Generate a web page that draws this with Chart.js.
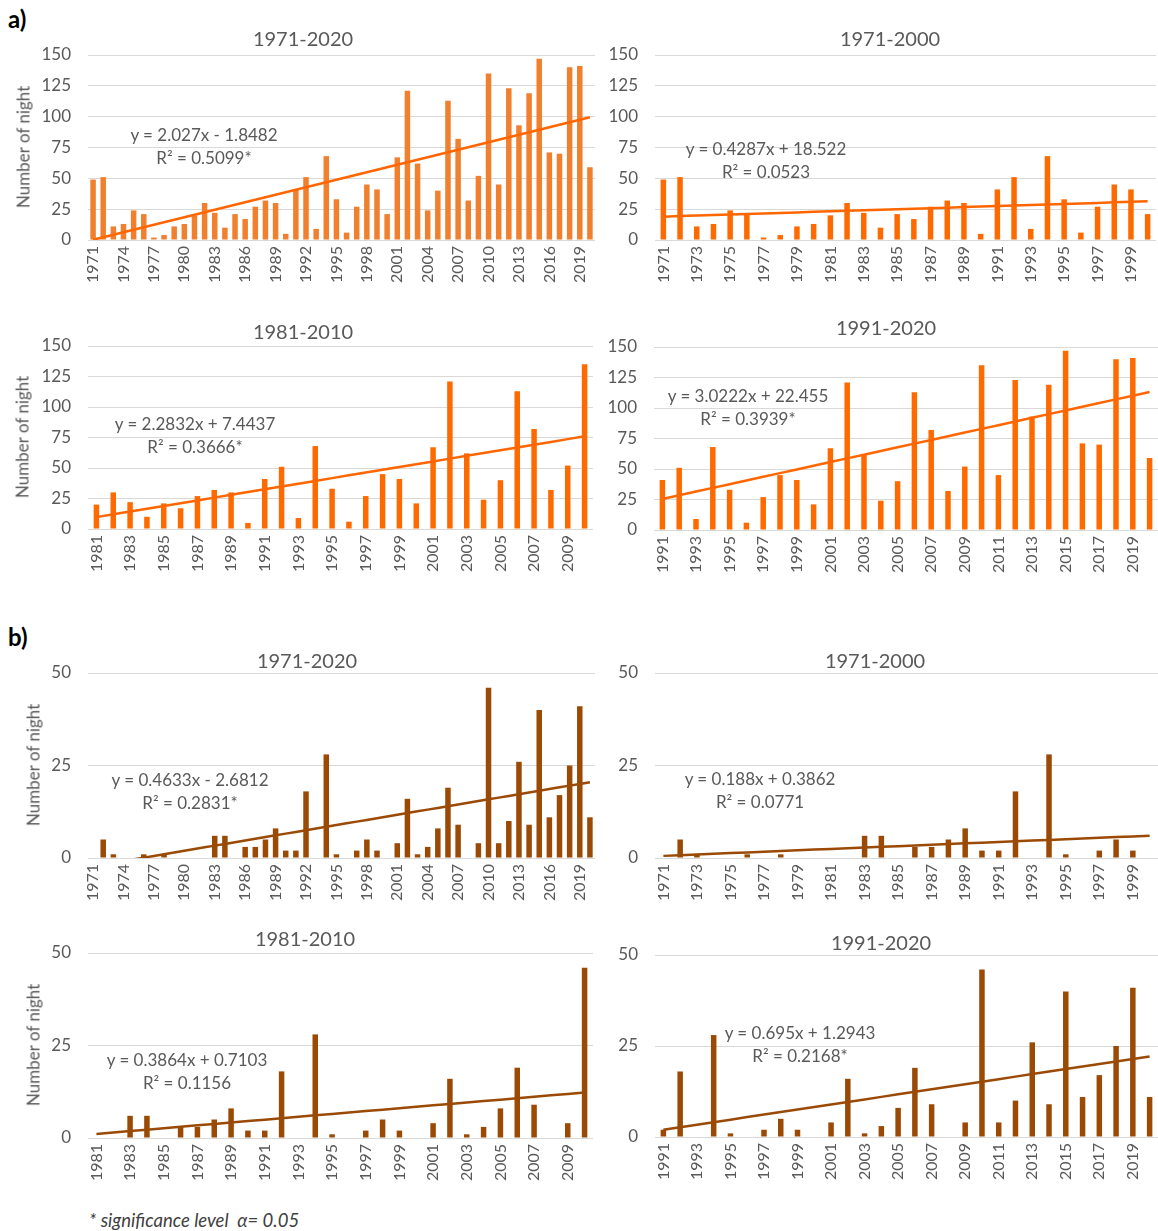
<!DOCTYPE html>
<html>
<head>
<meta charset="utf-8">
<script src="https://cdn.jsdelivr.net/npm/chart.js@4/dist/chart.umd.min.js"></script>
<style>
  html, body { margin: 0; padding: 0; background: #fff; }
  body { width: 1158px; height: 1231px; position: relative; overflow: hidden;
         font-family: Lato, "Open Sans", sans-serif; color: #595959; }
  canvas { position: absolute; }
  .title { position: absolute; transform: translate(-50%, -50%); white-space: nowrap; font-size: 20px; }
  .eq { position: absolute; transform: translate(-50%, -50%); white-space: nowrap; font-size: 17px;
        text-align: center; line-height: 23px; }
  .ytitle { position: absolute; transform: translate(-50%, -50%) rotate(-90deg); white-space: nowrap; font-size: 17px; }
  .panel { position: absolute; transform: translateY(-50%); font-weight: bold; font-size: 24px; color: #000; }
  .note { position: absolute; transform: translateY(-50%); font-style: italic; font-size: 18.5px; color: #404040; white-space: pre; }
</style>
</head>
<body>
<div class="panel" style="left:8px;top:18px;">a)</div>
<div class="panel" style="left:8px;top:636px;">b)</div>
<div class="note" style="left:89px;top:1220px;">* significance level  α= 0.05</div>
<script>
// Years on the category axis
const YEARS = ['1971','1972','1973','1974','1975','1976','1977','1978','1979','1980',
               '1981','1982','1983','1984','1985','1986','1987','1988','1989','1990',
               '1991','1992','1993','1994','1995','1996','1997','1998','1999','2000',
               '2001','2002','2003','2004','2005','2006','2007','2008','2009','2010',
               '2011','2012','2013','2014','2015','2016','2017','2018','2019','2020'];

// a) yearly number of nights
const NIGHTS_A = [49, 51, 11, 13, 24, 21, 2, 4, 11, 13,
                  20, 30, 22, 10, 21, 17, 27, 32, 30, 5,
                  41, 51, 9, 68, 33, 6, 27, 45, 41, 21,
                  67, 121, 62, 24, 40, 113, 82, 32, 52, 135,
                  45, 123, 93, 119, 147, 71, 70, 140, 141, 59];

// b) yearly number of nights
const NIGHTS_B = [0, 5, 1, 0, 0, 1, 0, 1, 0, 0,
                  0, 0, 6, 6, 0, 3, 3, 5, 8, 2,
                  2, 18, 0, 28, 1, 0, 2, 5, 2, 0,
                  4, 16, 1, 3, 8, 19, 9, 0, 4, 46,
                  4, 10, 26, 9, 40, 11, 17, 25, 41, 11];

// Periods shown in each group of four panels
const PERIOD_NAMES = ['1971-2020', '1971-2000', '1981-2010', '1991-2020'];
const PERIOD_START = ['1971', '1971', '1981', '1991'];
const PERIOD_END   = ['2020', '2000', '2010', '2020'];

// Linear trend coefficients (x = 1 for the first year of the period) and R²
const SLOPE_A     = [2.027, 0.4287, 2.2832, 3.0222];
const INTERCEPT_A = [-1.8482, 18.522, 7.4437, 22.455];
const R2_A        = ['0.5099*', '0.0523', '0.3666*', '0.3939*'];
const SLOPE_B     = [0.4633, 0.188, 0.3864, 0.695];
const INTERCEPT_B = [-2.6812, 0.3862, 0.7103, 1.2943];
const R2_B        = ['0.2831*', '0.0771', '0.1156', '0.2168*'];

// Value axis ranges
const Y_MAX_A = 150, Y_STEP_A = 25;
const Y_MAX_B = 50,  Y_STEP_B = 25;

const AXIS_TITLE = 'Number of night';

// Panel geometry (page pixels)
const BOXES = [
  // group a
  { g: 'a', p: 0, left: 0,   width: 600, plotLeft: 88,  plotRight: 595,  plotTop: 55,  plotBottom: 240,  labelBottom: 300,  title: [303, 38],  eq: [204, 146],   yTitle: [23, 147] },
  { g: 'a', p: 1, left: 600, width: 558, plotLeft: 655, plotRight: 1156, plotTop: 55,  plotBottom: 240,  labelBottom: 300,  title: [890, 38],  eq: [766, 160],   yTitle: null },
  { g: 'a', p: 2, left: 0,   width: 600, plotLeft: 88,  plotRight: 593,  plotTop: 346, plotBottom: 529,  labelBottom: 590,  title: [303, 331], eq: [195, 434.5], yTitle: [22, 437] },
  { g: 'a', p: 3, left: 600, width: 558, plotLeft: 654, plotRight: 1158, plotTop: 347, plotBottom: 530,  labelBottom: 590,  title: [886, 327], eq: [748, 406.5], yTitle: null },
  // group b
  { g: 'b', p: 0, left: 0,   width: 600, plotLeft: 88,  plotRight: 595,  plotTop: 673, plotBottom: 858,  labelBottom: 915,  title: [307, 660], eq: [190, 790.5], yTitle: [33, 765] },
  { g: 'b', p: 1, left: 600, width: 558, plotLeft: 655, plotRight: 1158, plotTop: 673, plotBottom: 858,  labelBottom: 915,  title: [875, 660], eq: [760, 790],   yTitle: null },
  { g: 'b', p: 2, left: 0,   width: 600, plotLeft: 88,  plotRight: 593,  plotTop: 953, plotBottom: 1138, labelBottom: 1195, title: [305, 938], eq: [187, 1070.5], yTitle: [33, 1045] },
  { g: 'b', p: 3, left: 600, width: 558, plotLeft: 655, plotRight: 1158, plotTop: 955, plotBottom: 1137, labelBottom: 1195, title: [881, 942], eq: [800, 1043.5], yTitle: null }
];

const TEXT = '#595959';
const GRID = '#d9d9d9';
const TOP_PAD = 12;

function addText(cls, x, y, html) {
  const d = document.createElement('div');
  d.className = cls;
  d.style.left = x + 'px';
  d.style.top = y + 'px';
  d.innerHTML = html;
  document.body.appendChild(d);
}

function equation(slope, intercept) {
  return 'y = ' + slope + 'x ' + (intercept < 0 ? '- ' : '+ ') + Math.abs(intercept);
}

function drawPanel(box) {
  const isA = box.g === 'a';
  const nights = isA ? NIGHTS_A : NIGHTS_B;
  const i0 = YEARS.indexOf(PERIOD_START[box.p]);
  const i1 = YEARS.indexOf(PERIOD_END[box.p]);
  const labels = YEARS.slice(i0, i1 + 1);
  const values = nights.slice(i0, i1 + 1);
  const slope = (isA ? SLOPE_A : SLOPE_B)[box.p];
  const intercept = (isA ? INTERCEPT_A : INTERCEPT_B)[box.p];
  const r2 = (isA ? R2_A : R2_B)[box.p];
  const trend = labels.map((_, k) => slope * (k + 1) + intercept);
  const step = labels.length > 40 ? 3 : 2;

  let barColor, lineColor;
  if (isA) {
    barColor = box.p === 0 ? '#F07F2E' : '#FF6A00';
    lineColor = '#FF6600';
  } else {
    barColor = '#9A4A05';
    lineColor = '#9A4A05';
  }

  const top = box.plotTop - TOP_PAD;
  const height = box.labelBottom - top;
  const canvas = document.createElement('canvas');
  canvas.width = box.width;
  canvas.height = height;
  canvas.style.left = box.left + 'px';
  canvas.style.top = top + 'px';
  canvas.style.width = box.width + 'px';
  canvas.style.height = height + 'px';
  document.body.appendChild(canvas);

  const yAxisWidth = box.plotLeft - box.left;
  const xAxisHeight = box.labelBottom - box.plotBottom;
  const rightPad = box.left + box.width - box.plotRight;

  new Chart(canvas.getContext('2d'), {
    type: 'bar',
    data: {
      labels: labels,
      datasets: [
        { type: 'line', data: trend, borderColor: lineColor, borderWidth: 2.5,
          pointRadius: 0, tension: 0, order: 0, fill: false },
        { type: 'bar', data: values, backgroundColor: barColor, barThickness: 5.5,
          inflateAmount: 0, borderWidth: 0, order: 1 }
      ]
    },
    options: {
      responsive: false,
      animation: false,
      devicePixelRatio: 1,
      layout: { padding: { top: TOP_PAD, right: rightPad, left: 0, bottom: 0 } },
      plugins: { legend: { display: false }, tooltip: { enabled: false }, title: { display: false } },
      scales: {
        x: {
          type: 'category',
          offset: true,
          grid: { display: false, drawTicks: false },
          border: { display: false },
          ticks: {
            autoSkip: false, minRotation: 90, maxRotation: 90, padding: 6,
            color: TEXT, font: { family: 'Lato', size: 16 },
            callback: function (v, i) { return i % step === 0 ? this.getLabelForValue(v) : ''; }
          },
          afterFit: function (s) { s.height = xAxisHeight; s.paddingLeft = 0; s.paddingRight = 0; }
        },
        y: {
          min: 0,
          max: isA ? Y_MAX_A : Y_MAX_B,
          ticks: { stepSize: isA ? Y_STEP_A : Y_STEP_B, padding: 17, color: TEXT, font: { family: 'Lato', size: 17 } },
          grid: { color: GRID, lineWidth: 1, drawTicks: false },
          border: { display: false },
          afterFit: function (s) { s.width = yAxisWidth; s.paddingTop = 0; s.paddingBottom = 0; }
        }
      }
    }
  });

  addText('title', box.title[0], box.title[1], PERIOD_NAMES[box.p]);
  addText('eq', box.eq[0], box.eq[1], equation(slope, intercept) + '<br>R² = ' + r2);
  if (box.yTitle) addText('ytitle', box.yTitle[0], box.yTitle[1], AXIS_TITLE);
}

Chart.defaults.font.family = 'Lato';
BOXES.forEach(drawPanel);
</script>
</body>
</html>
